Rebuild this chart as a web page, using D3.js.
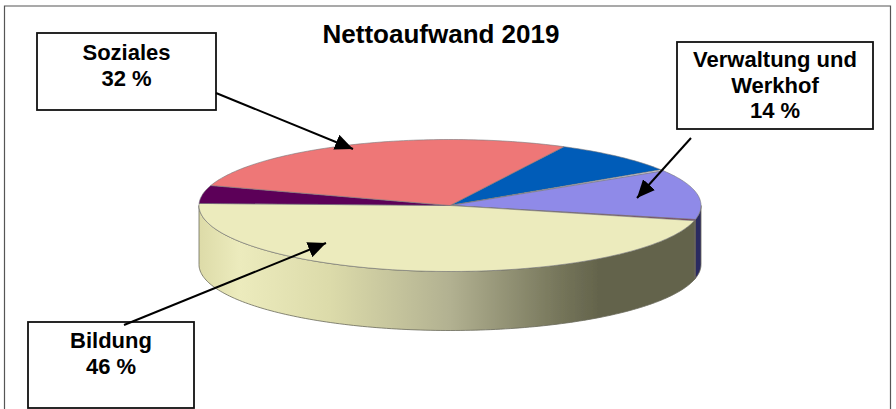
<!DOCTYPE html>
<html>
<head>
<meta charset="utf-8">
<script src="https://cdn.jsdelivr.net/npm/d3@7"></script>
<style>
  html, body { margin: 0; padding: 0; background: #fff; }
  svg { display: block; }
  text { font-family: "Liberation Sans", Arial, sans-serif; font-weight: bold; fill: #000; }
</style>
</head>
<body>
<script>
// slices clockwise, starting at the blue one. Shares are read off the drawn
// wedge angles, so they are what the picture shows, not what the labels say
var sliceNames = ["blau", "weiss", "Verwaltung und Werkhof", "dunkelrot", "Bildung", "violett", "Soziales"];
var sliceShares = [8.4, 0.3, 12.2, 0.3, 46.8, 4.4, 27.6];
var sliceColors = ["#005cb8", "#e8e8f4", "#8f8ae8", "#7a1f50", "#ecebbd", "#5c0058", "#ee7777"];
var sideColors = ["#00306a", "#777777", "#2c2a60", "#3c1440", "url(#wallShade)", "#300030", "#7a3c3c"];

var title = "Nettoaufwand 2019";

// callouts: label lines, box corners, arrow start and tip
var calloutLines = [["Soziales", "32 %"], ["Verwaltung und", "Werkhof", "14 %"], ["Bildung", "46 %"]];
var calloutBoxes = [[37, 33, 216, 110], [677, 42, 873, 129], [28, 322, 194, 408]];
var calloutFirstLine = [60, 67, 348];
var calloutArrows = [[216, 93, 353, 149], [691, 138, 637, 198], [124, 325, 326, 243]];

// shading of the front wall, left to right
var wallStops = [0, 0.08, 0.26, 0.5, 0.72, 0.8, 1];
var wallShades = ["#dddba8", "#ecebbd", "#dcdbaa", "#b2b191", "#75755a", "#63634b", "#63634b"];

var width = 896, height = 409;
var depth = 59;
var startDeg = 27;

var svg = d3.select("body").append("svg")
    .attr("width", width)
    .attr("height", height);

var defs = svg.append("defs");

var grad = defs.append("linearGradient")
    .attr("id", "wallShade")
    .attr("gradientUnits", "userSpaceOnUse")
    .attr("x1", 199).attr("x2", 701)
    .attr("y1", 0).attr("y2", 0);

grad.selectAll("stop")
    .data(wallStops)
    .enter().append("stop")
    .attr("offset", function(d) { return d; })
    .attr("stop-color", function(d, i) { return wallShades[i]; });

defs.append("marker")
    .attr("id", "head")
    .attr("viewBox", "0 0 18 16")
    .attr("refX", 18).attr("refY", 8)
    .attr("markerWidth", 18).attr("markerHeight", 16)
    .attr("markerUnits", "userSpaceOnUse")
    .attr("orient", "auto")
    .append("path")
    .attr("d", "M0,0L18,8L0,16Z")
    .attr("fill", "#000");

defs.append("filter")
    .attr("id", "soft")
    .append("feGaussianBlur")
    .attr("stdDeviation", 0.45);

// frame, open at the bottom where the picture is cut off
svg.append("path")
    .attr("d", "M4.5,409V6H890.5V409")
    .attr("fill", "none")
    .attr("stroke", "#555")
    .attr("stroke-width", 1.2);

svg.append("text")
    .attr("x", 441)
    .attr("y", 43)
    .attr("text-anchor", "middle")
    .attr("font-size", 26)
    .text(title);

// the flat pie is a unit circle pushed through two scales
var xScale = d3.scaleLinear().domain([-1, 1]).range([199, 701]);
var yScale = d3.scaleLinear().domain([-1, 1]).range([139.5, 271.5]);

var pie = d3.pie()
    .sort(null)
    .startAngle(startDeg * Math.PI / 180)
    .endAngle((startDeg + 360) * Math.PI / 180);

var slices = pie(sliceShares);

function rimPoints(a0, a1, drop) {
    var n = Math.max(2, Math.ceil(Math.abs(a1 - a0) / 0.02));
    return d3.range(n + 1).map(function(i) {
        var a = a0 + (a1 - a0) * i / n;
        return [xScale(Math.sin(a)), yScale(-Math.cos(a)) + drop];
    });
}

var line = d3.line();

function topPath(d) {
    var centre = [xScale(0), yScale(0)];
    return line([centre].concat(rimPoints(d.startAngle, d.endAngle, 0))) + "Z";
}

// only the part of a slice between 3 and 9 o'clock shows its wall
function wallPath(d) {
    var full = Math.PI * 2;
    var a0 = d.startAngle, a1 = d.endAngle;
    if (a0 >= full) { a0 -= full; a1 -= full; }
    a0 = Math.max(a0, Math.PI / 2);
    a1 = Math.min(a1, Math.PI * 1.5);
    if (a1 <= a0) return null;
    return line(rimPoints(a0, a1, 0).concat(rimPoints(a1, a0, depth))) + "Z";
}

var pieGroup = svg.append("g").attr("filter", "url(#soft)");

pieGroup.selectAll("path.wall")
    .data(slices)
    .enter().append("path")
    .attr("class", "wall")
    .attr("d", wallPath)
    .attr("fill", function(d, i) { return sideColors[i]; })
    .attr("stroke", "#6a6a5a")
    .attr("stroke-width", 0.8);

pieGroup.selectAll("path.top")
    .data(slices)
    .enter().append("path")
    .attr("class", "top")
    .attr("d", topPath)
    .attr("fill", function(d, i) { return sliceColors[i]; })
    .attr("stroke", "#77777a")
    .attr("stroke-width", 0.6);

var boxes = svg.selectAll("g.callout")
    .data(calloutBoxes)
    .enter().append("g")
    .attr("class", "callout");

boxes.append("rect")
    .attr("x", function(d) { return d[0]; })
    .attr("y", function(d) { return d[1]; })
    .attr("width", function(d) { return d[2] - d[0]; })
    .attr("height", function(d) { return d[3] - d[1]; })
    .attr("fill", "#fff")
    .attr("stroke", "#111")
    .attr("stroke-width", 1.8);

boxes.each(function(d, i) {
    d3.select(this).selectAll("text")
        .data(calloutLines[i])
        .enter().append("text")
        .attr("x", (d[0] + d[2]) / 2)
        .attr("y", function(t, j) { return calloutFirstLine[i] + j * 25.5; })
        .attr("text-anchor", "middle")
        .attr("font-size", 22)
        .text(function(t) { return t; });
});

// arrows last, the Bildung tail pokes into its box
svg.selectAll("line.arrow")
    .data(calloutArrows)
    .enter().append("line")
    .attr("class", "arrow")
    .attr("x1", function(d) { return d[0]; })
    .attr("y1", function(d) { return d[1]; })
    .attr("x2", function(d) { return d[2]; })
    .attr("y2", function(d) { return d[3]; })
    .attr("stroke", "#000")
    .attr("stroke-width", 2)
    .attr("marker-end", "url(#head)");
</script>
</body>
</html>
